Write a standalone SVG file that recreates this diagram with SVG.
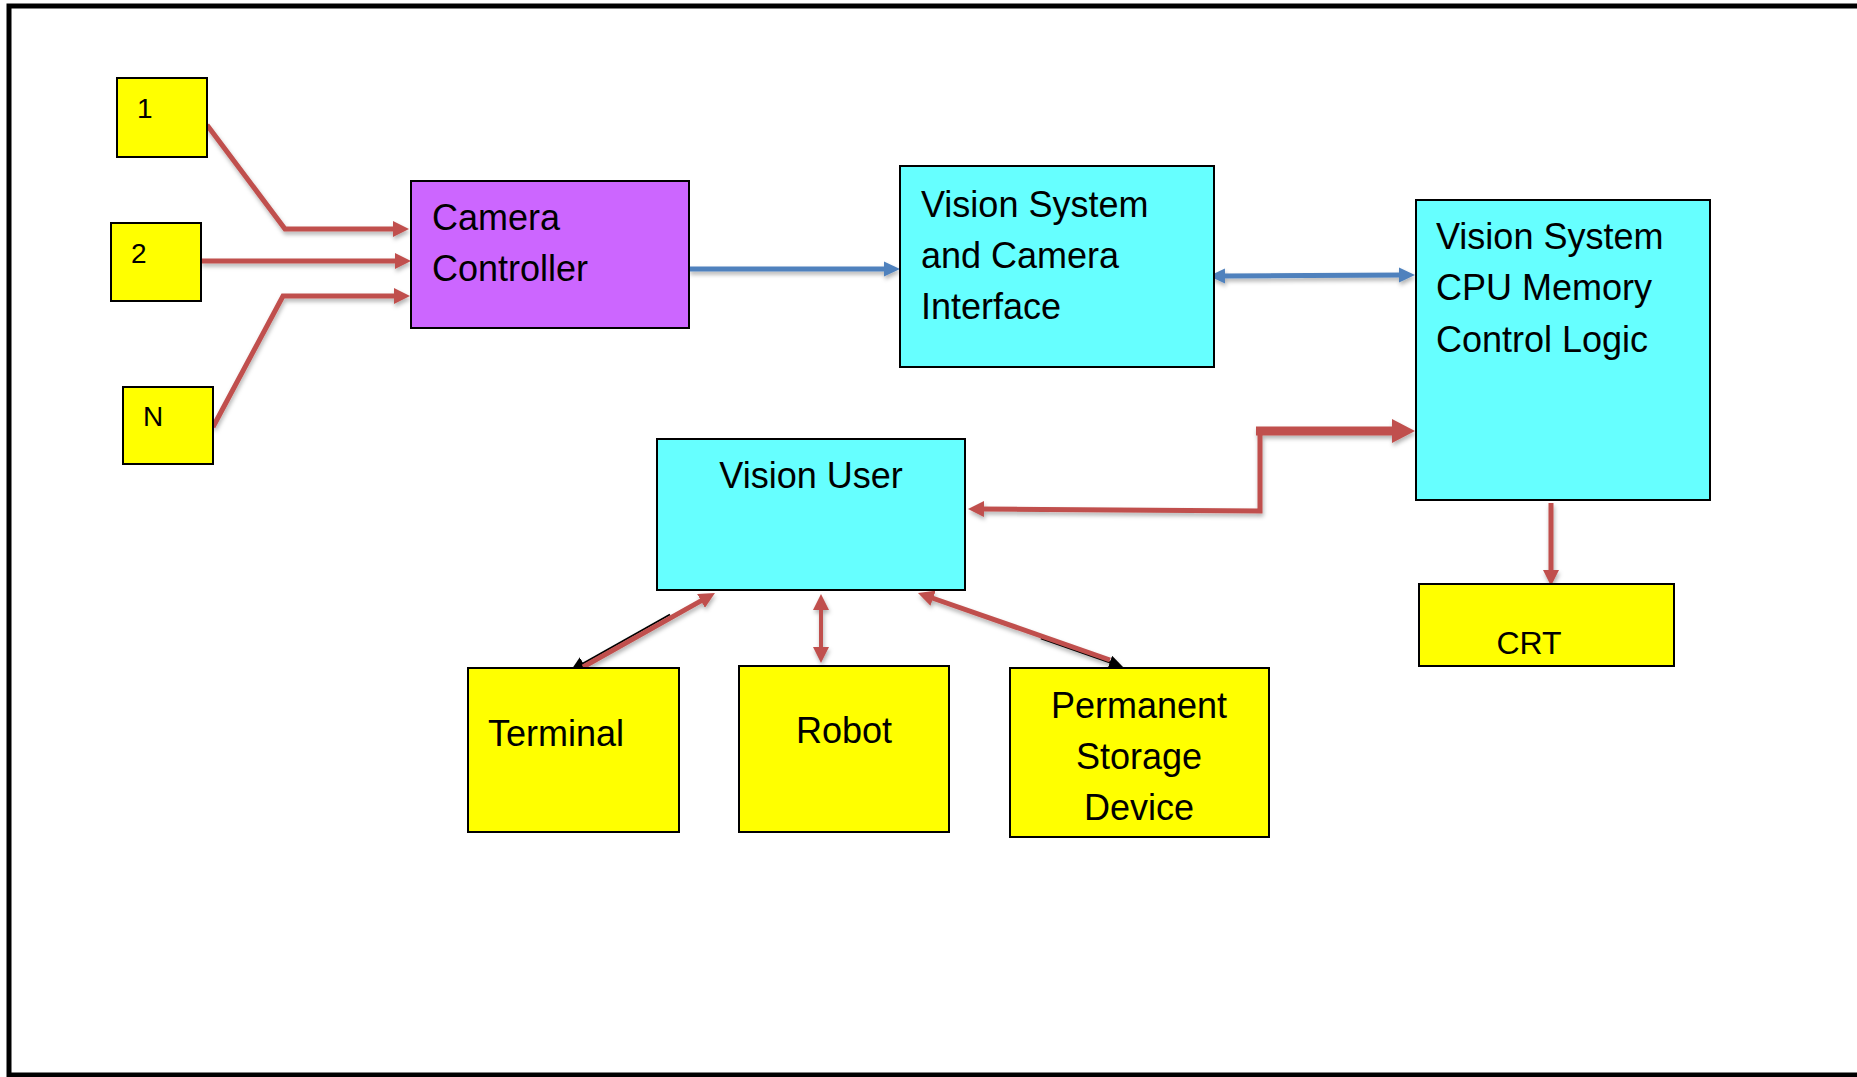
<svg xmlns="http://www.w3.org/2000/svg" width="1857" height="1077" viewBox="0 0 1857 1077">
  <style>
    .box { stroke: #000; stroke-width: 2; }
    .yellow { fill: #FFFF00; }
    .cyan { fill: #66FFFF; }
    .purple { fill: #CC66FF; }
    .lbl { font-family: "Liberation Sans", Arial, sans-serif; font-size: 36px; fill: #000; }
    .small { font-size: 28px; }
    .mid { text-anchor: middle; }
    .red { stroke: #C0504D; stroke-width: 5; fill: none; }
    .blue { stroke: #4F81BD; stroke-width: 5; fill: none; }
    .black { stroke: #000; stroke-width: 2; fill: none; }
  </style>
  <defs>
    <filter id="shadow" x="-10%" y="-10%" width="130%" height="140%">
      <feDropShadow dx="1" dy="3" stdDeviation="2" flood-color="#000" flood-opacity="0.3"/>
    </filter>
    <marker id="headRed" markerUnits="userSpaceOnUse" viewBox="0 0 16 16" markerWidth="16" markerHeight="16" refX="4" refY="8" orient="auto-start-reverse">
      <path d="M0,0 L16,8 L0,16 z" fill="#C0504D"/>
    </marker>
    <marker id="headRedBig" markerUnits="userSpaceOnUse" viewBox="0 0 24 24" markerWidth="24" markerHeight="24" refX="5" refY="12" orient="auto-start-reverse">
      <path d="M0,0 L23,12 L0,24 z" fill="#C0504D"/>
    </marker>
    <marker id="headBlue" markerUnits="userSpaceOnUse" viewBox="0 0 16 16" markerWidth="16" markerHeight="16" refX="4" refY="8" orient="auto-start-reverse">
      <path d="M0,0.5 L16,8 L0,15.5 z" fill="#4F81BD"/>
    </marker>
    <marker id="headBlack" markerUnits="userSpaceOnUse" viewBox="0 0 14 14" markerWidth="14" markerHeight="14" refX="2" refY="7" orient="auto-start-reverse">
      <path d="M0,0 L14,7 L0,14 z" fill="#000"/>
    </marker>
  </defs>

  <rect width="1857" height="1077" fill="#fff"/>
  <!-- outer frame, open at the right -->
  <rect x="9" y="6" width="1900" height="1069" fill="none" stroke="#000" stroke-width="5"/>

  <g id="connectors" filter="url(#shadow)">
    <!-- cameras to camera controller -->
    <path class="red" d="M207,125 L285,229 L397,229" marker-end="url(#headRed)"/>
    <path class="red" d="M201,261 L399,261" marker-end="url(#headRed)"/>
    <path class="red" d="M213,427 L283,296 L398,296" marker-end="url(#headRed)"/>
    <!-- controller to interface -->
    <path class="blue" d="M689,269 L888,269" marker-end="url(#headBlue)"/>
    <!-- interface to CPU -->
    <path class="blue" d="M1221,276 L1403,275" marker-start="url(#headBlue)" marker-end="url(#headBlue)"/>
    <!-- CPU to vision user -->
    <path class="red" d="M980,509 L1260,511 L1260,427" marker-start="url(#headRed)"/>
    <path class="red" style="stroke-width:9" d="M1256,431 L1397,431" marker-end="url(#headRedBig)"/>
    <!-- CPU to CRT -->
    <path class="red" d="M1551,503 L1551,574" marker-end="url(#headRed)"/>
    <!-- vision user to terminal -->
    <path class="black" d="M670,614.5 L581.5,664.4" marker-end="url(#headBlack)"/>
    <path class="red" d="M583,667 L704.5,598.9" marker-end="url(#headRed)"/>
    <!-- vision user to robot -->
    <path class="red" style="stroke-width:4" d="M821,606 L821,651" marker-start="url(#headRed)" marker-end="url(#headRed)"/>
    <!-- vision user to permanent storage -->
    <path class="black" d="M1040.9,638.3 L1111.7,663" marker-end="url(#headBlack)"/>
    <path class="red" d="M929.3,597 L1110,660" marker-start="url(#headRed)"/>
  </g>

  <g id="cam1">
    <rect class="box yellow" x="117" y="78" width="90" height="79"/>
    <text class="lbl small" x="137" y="118">1</text>
  </g>
  <g id="cam2">
    <rect class="box yellow" x="111" y="223" width="90" height="78"/>
    <text class="lbl small" x="131" y="263">2</text>
  </g>
  <g id="camN">
    <rect class="box yellow" x="123" y="387" width="90" height="77"/>
    <text class="lbl small" x="143" y="426">N</text>
  </g>
  <g id="camera-controller">
    <rect class="box purple" x="411" y="181" width="278" height="147"/>
    <text class="lbl" x="432" y="230">Camera</text>
    <text class="lbl" x="432" y="281">Controller</text>
  </g>
  <g id="camera-interface">
    <rect class="box cyan" x="900" y="166" width="314" height="201"/>
    <text class="lbl" x="921" y="217">Vision System</text>
    <text class="lbl" x="921" y="268">and Camera</text>
    <text class="lbl" x="921" y="319">Interface</text>
  </g>
  <g id="cpu">
    <rect class="box cyan" x="1416" y="200" width="294" height="300"/>
    <text class="lbl" x="1436" y="249">Vision System</text>
    <text class="lbl" x="1436" y="300">CPU Memory</text>
    <text class="lbl" x="1436" y="352">Control Logic</text>
  </g>
  <g id="crt">
    <rect class="box yellow" x="1419" y="584" width="255" height="82"/>
    <text class="lbl mid" style="font-size:32px" x="1529" y="654">CRT</text>
  </g>
  <g id="vision-user">
    <rect class="box cyan" x="657" y="439" width="308" height="151"/>
    <text class="lbl mid" x="811" y="488">Vision User</text>
  </g>
  <g id="terminal">
    <rect class="box yellow" x="468" y="668" width="211" height="164"/>
    <text class="lbl" x="488" y="746">Terminal</text>
  </g>
  <g id="robot">
    <rect class="box yellow" x="739" y="666" width="210" height="166"/>
    <text class="lbl mid" x="844" y="743">Robot</text>
  </g>
  <g id="storage">
    <rect class="box yellow" x="1010" y="668" width="259" height="169"/>
    <text class="lbl mid" x="1139" y="718">Permanent</text>
    <text class="lbl mid" x="1139" y="769">Storage</text>
    <text class="lbl mid" x="1139" y="820">Device</text>
  </g>
</svg>
